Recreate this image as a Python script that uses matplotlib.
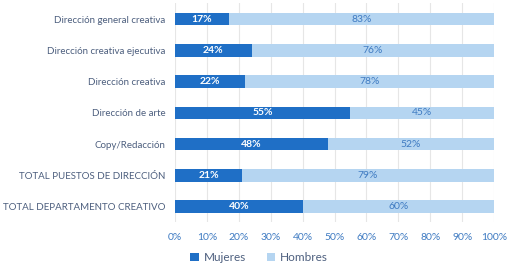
import matplotlib.pyplot as plt

plt.rcParams['font.family'] = ['Lato', 'DejaVu Sans']

categorias = ['Dirección general creativa', 'Dirección creativa ejecutiva',
              'Dirección creativa', 'Dirección de arte', 'Copy/Redacción',
              'TOTAL PUESTOS DE DIRECCIÓN', 'TOTAL DEPARTAMENTO CREATIVO']
mujeres = [17, 24, 22, 55, 48, 21, 40]
hombres = [83, 76, 78, 45, 52, 79, 60]
xticks = [0, 10, 20, 30, 40, 50, 60, 70, 80, 90, 100]

c_muj = '#1f6fc6'
c_hom = '#b5d5f1'
c_txt = '#4d5f7e'
c_tick = '#3f7bc2'

fig = plt.figure(figsize=(5.08, 2.66), dpi=100)
ax = fig.add_axes([0.3445, 0.165, 0.628, 0.822])

y = list(range(len(categorias)))
b1 = ax.barh(y, mujeres, height=0.4, color=c_muj, label='Mujeres', zorder=3)
b2 = ax.barh(y, hombres, left=mujeres, height=0.4, color=c_hom, label='Hombres', zorder=3)

for i in y:
    ax.text(mujeres[i] / 2, i, f'{mujeres[i]}%', ha='center', va='center',
            color='white', fontsize=7.5, fontweight='bold', zorder=4)
    ax.text(mujeres[i] + hombres[i] / 2, i, f'{hombres[i]}%', ha='center', va='center',
            color=c_tick, fontsize=7.5, zorder=4)

ax.set_xlim(0, 100)
ax.set_ylim(len(categorias) - 0.5, -0.5)
ax.set_yticks(y)
ax.set_yticklabels(categorias, color=c_txt, fontsize=7)
ax.set_xticks(xticks)
ax.set_xticklabels([f'{t}%' for t in xticks], color=c_tick, fontsize=7.5)
ax.tick_params(axis='y', length=0, pad=7)
ax.tick_params(axis='x', length=0, pad=8)
ax.grid(axis='x', color='#e6e6e6', linewidth=0.8, zorder=0)
for s in ax.spines.values():
    s.set_visible(False)

fig.legend(handles=[b1, b2], loc='lower center', bbox_to_anchor=(0.51, -0.03), ncol=2,
           frameon=False, fontsize=8.5, labelcolor=c_txt, handlelength=0.7,
           handleheight=0.7, handletextpad=0.4, columnspacing=1.8)

fig.savefig('out.png', dpi=100)
